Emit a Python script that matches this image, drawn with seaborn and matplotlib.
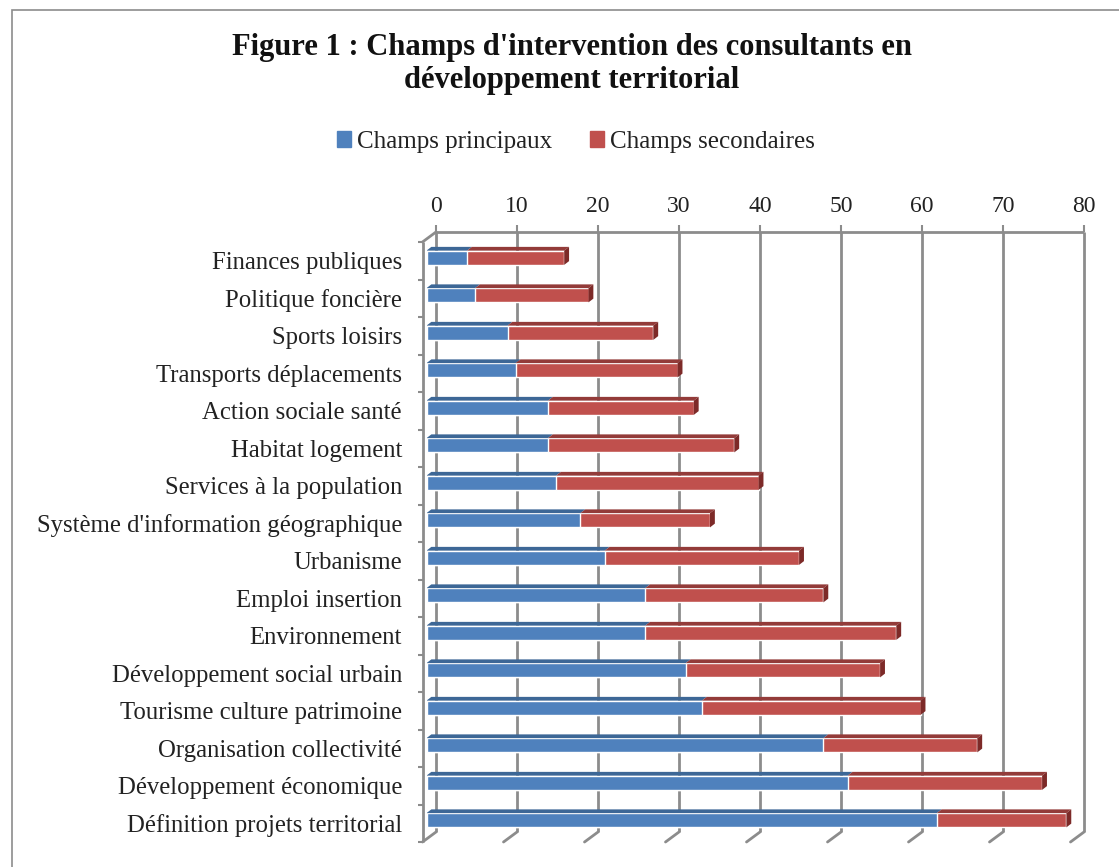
import numpy as np
import pandas as pd
import matplotlib
matplotlib.use("Agg")
import matplotlib.pyplot as plt
import matplotlib.transforms as mtransforms
from matplotlib.patches import Patch, Rectangle, ConnectionPatch
import seaborn as sns

# data (front faces of the 3D bars)
categories = [
    "Finances publiques",
    "Politique foncière",
    "Sports loisirs",
    "Transports déplacements",
    "Action sociale santé",
    "Habitat logement",
    "Services à la population",
    "Système d'information géographique",
    "Urbanisme",
    "Emploi insertion",
    "Environnement",
    "Développement social urbain",
    "Tourisme culture patrimoine",
    "Organisation collectivité",
    "Développement économique",
    "Définition projets territorial",
]
principaux = [5, 6, 10, 11, 15, 15, 16, 19, 22, 27, 27, 32, 34, 49, 52, 63]
secondaires = [12, 14, 18, 20, 18, 23, 25, 16, 24, 22, 31, 24, 27, 19, 24, 16]
xticks = [0, 10, 20, 30, 40, 50, 60, 70, 80]
series_names = ["Champs principaux", "Champs secondaires"]
title_lines = ["Figure 1 : Champs d'intervention des consultants en",
               "développement territorial"]

BLUE, BLUE_TOP = "#4F81BD", "#3D6796"
RED, RED_TOP, RED_END = "#C0504D", "#933B39", "#7D2A28"
GRID = "#8C8C8C"

sns.set_style("white")
plt.rcParams["font.family"] = ["Liberation Serif", "DejaVu Serif"]

df = pd.DataFrame({"champ": categories, "principaux": principaux,
                   "secondaires": secondaires})
df["total"] = df["principaux"] + df["secondaires"]

W, H = 1119, 867
fig = plt.figure(figsize=(W / 100, H / 100), dpi=100)
ax = fig.add_axes([426.5 / W, 1 - 839 / H, 648 / W, 600 / H])


def shifted(dx, dy):
    # oblique 3D look: offset in pixels from the bar plane
    return mtransforms.ScaledTranslation(dx / 100, dy / 100, fig.dpi_scale_trans)


back = shifted(9.5, 7)
front = shifted(-4, -3)

half = 0.19
sns.barplot(data=df, x="total", y="champ", color=RED, width=2 * half,
            saturation=1, errorbar=None, ax=ax, zorder=3)
sns.barplot(data=df, x="principaux", y="champ", color=BLUE, width=2 * half,
            saturation=1, errorbar=None, ax=ax, zorder=4)

# top and end faces of the bars
ddx, ddy = 0.6, 0.1
for i, row in df.iterrows():
    top = i - half
    for a, b, col in [(0, row["principaux"], BLUE_TOP), (row["principaux"], row["total"], RED_TOP)]:
        ax.fill([a, b, b + ddx, a + ddx], [top, top, top - ddy, top - ddy],
                color=col, lw=0, zorder=4)
    t = row["total"]
    ax.fill([t, t, t + ddx, t + ddx], [top, i + half, i + half - ddy, top - ddy],
            color=RED_END, lw=0, zorder=4)

n = len(categories)
ax.set_xlim(xticks[0], xticks[-1])
ax.set_ylim(n - 0.5, -0.5)
ax.set_xlabel("")
ax.set_ylabel("")
for s in ax.spines.values():
    s.set_visible(False)

# back wall: grid and top line
ax.vlines(xticks, -0.5, n - 0.5, color=GRID, lw=2, transform=ax.transData + back,
          zorder=1, clip_on=False)
ax.hlines(-0.5, xticks[0], xticks[-1], color=GRID, lw=2, transform=ax.transData + back,
          zorder=1, clip_on=False)
# left wall edge
ax.vlines(0, -0.5, n - 0.5, color=GRID, lw=2, transform=ax.transData + front,
          zorder=1, clip_on=False)
links = [(0, -0.5)] + [(x, n - 0.5) for x in xticks]
for x, y in links:
    cp = ConnectionPatch((x, y), (x, y), coordsA=ax.transData + front,
                         coordsB=ax.transData + back, color=GRID, lw=2)
    cp.set_clip_on(False)
    ax.add_artist(cp)

ax.xaxis.tick_top()
ax.set_xticks(xticks)
ax.set_xticklabels([str(v) for v in xticks])
ax.tick_params(axis="x", which="major", top=True, bottom=False, length=4.75, width=1.5,
               color=GRID, pad=6, labelsize=17, labelcolor="#222222")
ax.set_yticks(np.arange(n + 1) - 0.5, minor=True)
ax.tick_params(axis="y", which="minor", left=True, length=3.6, width=1.5, color=GRID)
ax.tick_params(axis="y", which="major", left=True, length=0, pad=14.8,
               labelsize=17.8, labelcolor="#222222")

for tk in ax.xaxis.get_major_ticks():
    tk.tick2line.set_transform(tk.tick2line.get_transform() + back)
    tk.label2.set_transform(tk.label2.get_transform() + back)
for tk in ax.yaxis.get_minor_ticks():
    tk.tick1line.set_transform(tk.tick1line.get_transform() + front)
for tk in ax.yaxis.get_major_ticks():
    tk.label1.set_transform(tk.label1.get_transform() + front)

fig.text(572 / W, 1 - 55 / H, title_lines[0], ha="center", va="baseline",
         fontsize=22, fontweight="bold", color="#111111")
fig.text(572 / W, 1 - 88 / H, title_lines[1], ha="center", va="baseline",
         fontsize=22, fontweight="bold", color="#111111")

handles = [Patch(color=BLUE, label=series_names[0]), Patch(color=RED, label=series_names[1])]
fig.legend(handles=handles, loc="center", bbox_to_anchor=(576 / W, 1 - 142 / H), ncol=2,
           frameon=False, fontsize=18, handlelength=0.57, handleheight=0.57,
           handletextpad=0.25, columnspacing=1.5, labelcolor="#222222")

fig.add_artist(Rectangle((12 / W, -0.1), 1.2, 1.1 - 10 / H, transform=fig.transFigure,
                         fill=False, edgecolor=GRID, lw=1.2))

fig.savefig("out.png", dpi=100)
